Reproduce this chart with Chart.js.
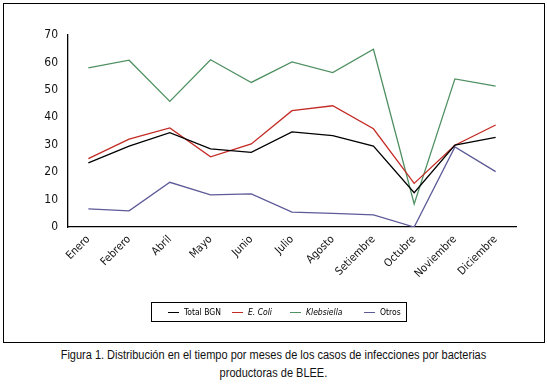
<!DOCTYPE html>
<html>
<head>
<meta charset="utf-8">
<script src="https://cdn.jsdelivr.net/npm/chart.js@4"></script>
<style>
  body { margin: 0; background: #fff; width: 547px; height: 389px; position: relative; font-family: "Liberation Sans", sans-serif; }
  #frame { position: absolute; left: 3px; top: 3px; width: 540px; height: 338px; border: 1px solid #000; }
  #myChart { position: absolute; left: 0; top: 0; }
  #legend { position: absolute; left: 147px; top: 298px; width: 254px; height: 18px; border: 1px solid #000; font-size: 8.5px; font-family: "DejaVu Sans Condensed", sans-serif; }
  .item { position: absolute; top: 0; height: 18px; line-height: 18px; white-space: nowrap; }
  .item span.ln { display: inline-block; width: 11px; height: 0; border-top: 1px solid; vertical-align: middle; margin-right: 5px; }
  #caption { position: absolute; left: 0; top: 346px; width: 547px; text-align: center; font-size: 12.5px; line-height: 18px; color: #111; transform: scaleX(0.88); transform-origin: 273px 0; }
</style>
</head>
<body>
<div id="frame">
  <canvas id="myChart" width="540" height="338"></canvas>
  <div id="legend"></div>
</div>
<div id="caption">Figura 1. Distribución en el tiempo por meses de los casos de infecciones por bacterias<br>productoras de BLEE.</div>
<script>
const months = ['Enero', 'Febrero', 'Abril', 'Mayo', 'Junio', 'Julio', 'Agosto', 'Setiembre', 'Octubre', 'Noviembre', 'Diciembre']
const yTicks = [0, 10, 20, 30, 40, 50, 60, 70]

const totalBGN  = [23.4, 29.5, 34.4, 28.5, 27.2, 34.7, 33.3, 29.5, 12.5, 29.9, 32.7]
const eColi     = [24.9, 32, 36.1, 25.6, 30.3, 42.4, 44.2, 35.8, 15.9, 29.8, 37.2]
const klebsiella = [58, 60.8, 45.8, 61, 52.7, 60.2, 56.3, 64.8, 8.4, 54, 51.4]
const otros     = [6.6, 5.9, 16.3, 11.7, 12.1, 5.4, 5, 4.4, 0, 29.2, 20.2]

const seriesNames = ['Total BGN', 'E. Coli', 'Klebsiella', 'Otros']
const seriesColors = ['#000000', '#c42a24', '#4f9062', '#5d5a98']
const seriesItalic = [false, true, true, false]
const seriesData = [totalBGN, eColi, klebsiella, otros]

const narrow = '"DejaVu Sans Condensed", sans-serif'

const myChart = new Chart(
  document.getElementById("myChart"),
  {
    type: 'line',
    data: {
      labels: months,
      datasets: seriesData.map((d, i) => ({
        label: seriesNames[i],
        data: d,
        borderColor: seriesColors[i],
        backgroundColor: seriesColors[i],
        borderWidth: 1.3,
        pointRadius: 0,
        tension: 0
      }))
    },
    options: {
      responsive: false,
      animation: false,
      devicePixelRatio: 1,
      layout: { padding: { left: 0, right: 28, top: 31, bottom: 0 } },
      plugins: {
        legend: { display: false },
        tooltip: { enabled: false }
      },
      scales: {
        x: {
          offset: true,
          grid: { display: false, drawTicks: false },
          border: { color: '#000', width: 1.3 },
          ticks: {
            color: '#111',
            font: { family: narrow, size: 11 },
            minRotation: 45,
            maxRotation: 45,
            autoSkip: false,
            padding: 6
          },
          afterFit: s => { s.height = 115 }
        },
        y: {
          min: 0,
          max: 70,
          grid: { display: false, drawTicks: false },
          border: { color: '#000', width: 1.3 },
          afterBuildTicks: s => { s.ticks = yTicks.map(v => ({ value: v })) },
          ticks: {
            color: '#111',
            font: { family: narrow, size: 12 },
            padding: 10
          },
          afterFit: s => { s.width = 64 }
        }
      }
    }
  }
);

// legend with italic species names
const leg = document.getElementById("legend")
const legX = [16, 80, 138, 212]
seriesNames.forEach((name, i) => {
  const d = document.createElement('div')
  d.className = 'item'
  d.style.left = legX[i] + 'px'
  d.innerHTML = '<span class="ln" style="border-color:' + seriesColors[i] + '"></span>' +
    (seriesItalic[i] ? '<i>' + name + '</i>' : name)
  leg.appendChild(d)
})
</script>
</body>
</html>
